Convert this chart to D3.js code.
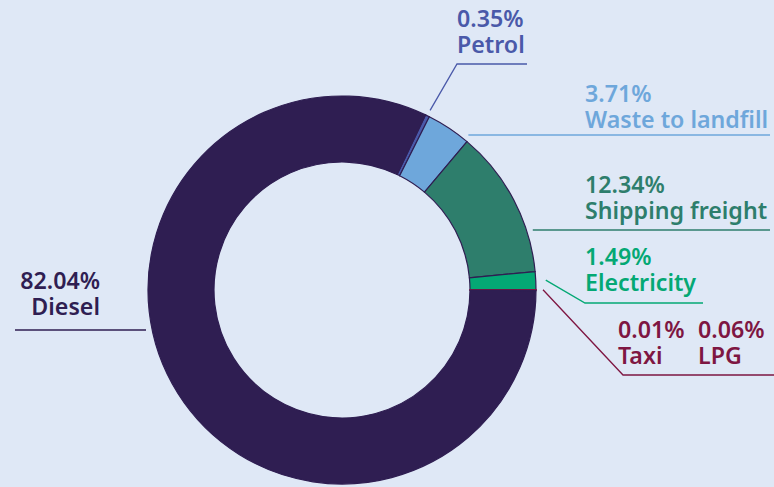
<!DOCTYPE html>
<html lang="en">
<head>
<meta charset="utf-8">
<title>Emissions donut</title>
<script src="https://cdn.jsdelivr.net/npm/d3@7"></script>
<style>
  html, body { margin: 0; padding: 0; background: #dfe8f6; }
  svg { display: block; }
  text { font-family: "Noto Sans", "Open Sans", sans-serif; font-weight: 600; font-size: 23.2px; }
</style>
</head>
<body>
<svg width="774" height="487"></svg>
<script>
// data
const categories = ['Petrol', 'Waste to landfill', 'Shipping freight', 'Electricity', 'Taxi', 'LPG', 'Diesel'];
const shares = [0.35, 3.71, 12.34, 1.49, 0.01, 0.06, 82.04];
const colours = ['#4a59a9', '#6ea7db', '#2e7e6c', '#04a874', '#7e1642', '#7e1642', '#2f1e52'];

const svg = d3.select('svg');
const cx = 342, cy = 290;
const outerR = 194, innerR = 128;
const startDeg = 25.5;

const rows = categories.map((c, i) => ({ name: c, value: shares[i], colour: colours[i] }));

const pie = d3.pie()
  .sort(null)
  .value(d => d.value)
  .startAngle(startDeg * Math.PI / 180)
  .endAngle(startDeg * Math.PI / 180 + 2 * Math.PI);

const arc = d3.arc().innerRadius(innerR).outerRadius(outerR);
const arcs = pie(rows);

const g = svg.append('g').attr('transform', `translate(${cx},${cy})`);

g.selectAll('path').data(arcs)
  .enter().append('path')
  .attr('d', arc)
  .attr('fill', d => d.data.colour)
  .attr('stroke', d => (d.data.name === 'Taxi' || d.data.name === 'LPG') ? '#7e1642' : '#2f1e52')
  .attr('stroke-width', 1.2);

// label layout (positions only)
const mid = name => { const a = arcs.find(d => d.data.name === name); return (a.startAngle + a.endAngle) / 2; };
const slice = name => arcs.find(d => d.data.name === name);
const edgeX = (y, side) => cx + side * Math.sqrt(200 * 200 - (y - cy) * (y - cy));
const radial = (ang, r) => { const p = d3.pointRadial(ang, r); return [cx + p[0], cy + p[1]]; };

const labels = [
  { name: 'Petrol', x: 457, y: 27, anchor: 'start',
    line: () => [radial(mid('Petrol'), 200), [457, 64], [527, 64]] },
  { name: 'Waste to landfill', x: 585, y: 102, anchor: 'start',
    line: () => [[edgeX(135, 1), 135], [770, 135]] },
  { name: 'Shipping freight', x: 585, y: 193, anchor: 'start',
    line: () => [[edgeX(230, 1), 230], [770, 230]] },
  { name: 'Electricity', x: 585, y: 265, anchor: 'start',
    line: () => [radial(mid('Electricity'), 204), [585, 303], [703, 303]] },
  { name: 'Taxi', x: 618, y: 338, anchor: 'start',
    line: () => [radial(slice('Taxi').endAngle, 201), [623, 375], [774, 375]] },
  { name: 'LPG', x: 698, y: 338, anchor: 'start', line: null },
  { name: 'Diesel', x: 100, y: 289, anchor: 'end',
    line: () => [[15, 330], [edgeX(330, -1), 330]] }
];

const line = d3.line();

labels.forEach(l => {
  const i = categories.indexOf(l.name);
  const col = colours[i];
  if (l.line) {
    svg.append('path')
      .attr('d', line(l.line()))
      .attr('fill', 'none')
      .attr('stroke', col)
      .attr('stroke-width', 1.3);
  }
  svg.append('text')
    .attr('x', l.x).attr('y', l.y)
    .attr('fill', col).attr('text-anchor', l.anchor)
    .text(d3.format('.2f')(shares[i]) + '%');
  svg.append('text')
    .attr('x', l.x).attr('y', l.y + 26)
    .attr('fill', col).attr('text-anchor', l.anchor)
    .text(l.name);
});
</script>
</body>
</html>
